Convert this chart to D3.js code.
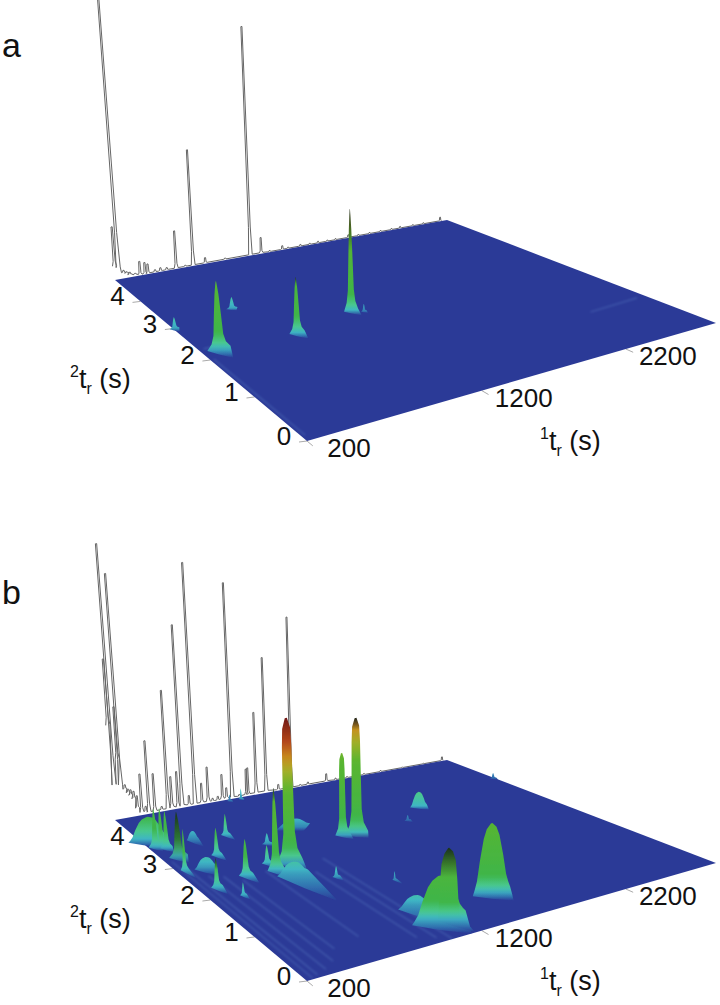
<!DOCTYPE html>
<html>
<head>
<meta charset="utf-8">
<script src="https://cdn.jsdelivr.net/npm/d3@7"></script>
<style>
  html, body { margin: 0; padding: 0; background: #fff; }
  svg { display: block; }
  text { font-family: "Liberation Sans", Arial, sans-serif; fill: #111; }
</style>
</head>
<body>
<svg id="chart" width="720" height="1005"></svg>
<script>
// axis ticks
const t1Ticks = [200, 1200, 2200];
const t2Ticks = [0, 1, 2, 3, 4];

// panel a, surface peaks (1tr s, 2tr s, height, half width s, tail s, shape, dark tip)
const aPeakT1 = [306, 786, 1235, 634, 210, 1293];
const aPeakT2 = [2.23, 2.19, 2.45, 3.23, 3.0, 2.35];
const aPeakH = [67, 55, 101, 11, 11, 7];
const aPeakW = [70, 50, 50, 38, 30, 20];
const aPeakTail = [0.3, 0.22, 0.2, 0.1, 0.12, 0.08];
const aPeakKind = [0, 0, 0, 0, 0, 0];
const aPeakDark = [0, 0.12, 0.4, 0, 0, 0];

// panel a, 1D trace on the back wall
const aTraceT1 = [204, 228, 262, 283, 304, 340, 375, 410, 431, 481, 520, 565, 634, 700, 759, 849, 1000, 1197, 1282, 1350, 1453, 1500, 1602, 1680, 1750, 1830, 1900, 2012, 2100, 2200, 2300, 2400, 2480, 2600, 2700, 2862];
const aTraceTop = [53, 300, 8, 6, 5, 3, 14, 12, 10, 3, 4, 3, 38, 2, 116, 6, 2, 229, 16, 1.5, 4, 1.5, 2, 1.5, 2, 1.5, 1.5, 3, 1.5, 1.5, 1.5, 1.5, 2, 1.5, 1.5, 4];
const aTraceFloor = [14, 12, 6, 5, 3, 2, 1, 1, 1, 1, 1, 1, 1, 1, 1, 1, 1, 1, 1, 0.5, 0.5, 0.5, 0.5, 0.5, 0.5, 0.5, 0.5, 0.5, 0.5, 0.5, 0.5, 0.5, 0.5, 0.5, 0.5, 0.5];

// panel a, faint ridges on the floor
const aStreakT1 = [2440, 230, 220];
const aStreakT2 = [0.97, 2.3, 2.0];
const aStreakT1End = [2860, 300, 220];
const aStreakT2End = [1.02, 2.3, 0.1];

// panel b, surface peaks
const bPeakT1 = [834, 705, 1425, 1340, 523, 513, 708, 308, 383, 856, 710, 946, 1150, 1110, 1557, 2072, 1842, 1202, 2924, 249, 280, 300, 305, 254, 257, 371, 760, 1134, 493, 1022, 1110, 1088];
const bPeakT2 = [2.52, 2.39, 2.9, 2.96, 2.43, 3.15, 3.7, 2.29, 1.95, 3.16, 2.62, 1.87, 0.39, 0.44, 0.68, 3.35, 2.97, 1.47, 3.81, 3.76, 3.72, 3.66, 3.32, 2.91, 4.03, 2.85, 2.2, 3.5, 3.75, 4.85, 4.85, 0.81];
const bPeakH = [143, 81, 115, 81, 35, 26, 20, 28, 12, 10, 17, 10, 70, 42, 68, 14, 5, 8, 5, 37, 38, 36, 44, 40, 22, 10, 11, 8, 8, 6, 10, 10];
const bPeakW = [85, 55, 85, 55, 45, 35, 32, 35, 20, 35, 35, 25, 70, 170, 130, 70, 25, 15, 30, 45, 40, 40, 60, 25, 130, 70, 100, 130, 40, 20, 18, 100];
const bPeakTail = [0.35, 0.3, 0.22, 0.22, 0.3, 0.25, 0.25, 0.25, 0.15, 0.12, 0.2, 0.15, 0.38, 0.44, 0.3, 0.2, 0.1, 0.15, 0.1, 0.2, 0.2, 0.2, 0.25, 0.3, 0.35, 0.3, 0.9, 0.2, 0.3, 0.1, 0.1, 0.6];
const bPeakKind = [2, 0, 2, 2, 0, 0, 0, 0, 0, 0, 0, 0, 3, 1, 1, 1, 0, 0, 0, 0, 0, 0, 0, 0, 1, 1, 1, 1, 1, 0, 0, 1];
const bPeakDark = [0, 0.15, 0.1, 0, 0, 0, 0, 0.3, 0, 0, 0, 0, 0.35, 0, 0, 0, 0, 0, 0, 0, 0, 0, 1, 0, 0, 0, 0, 0, 0, 0, 0, 0];

// panel b, 1D trace
const bTraceT1 = [200, 212, 246, 255, 283, 304, 320, 340, 360, 389, 417, 439, 481, 530, 575, 604, 648, 678, 730, 774, 825, 872, 905, 945, 980, 1012, 1056, 1110, 1167, 1180, 1244, 1324, 1421, 1527, 1600, 1665, 1821, 1900, 2000, 2150, 2300, 2500, 2700, 2880];
const bTraceTop = [161, 276, 112, 245, 33, 28, 27, 25, 20, 41, 8, 73, 39, 5, 120, 33, 37, 183, 11, 243, 21, 36, 4, 5, 26, 12, 216, 3, 27, 28, 82, 135, 6, 171, 2, 3, 8, 2, 1.5, 1.5, 1.5, 1, 1, 4];
const bTraceFloor = [95, 35, 60, 34, 29, 25, 22, 18, 8, 3, 3, 2, 2, 2, 2, 3, 2, 3, 2, 2, 2, 2, 1.5, 1.5, 2, 2, 2, 1.5, 2, 2, 2, 2, 1, 1, 1, 1, 1, 0.5, 0.5, 0.5, 0.5, 0.5, 0.5, 0.5];

// panel b, ridges
const bStreakT1 = [1020, 960, 880, 640, 470, 400, 330, 270, 235];
const bStreakT2 = [2.4, 1.9, 2.1, 2.4, 2.3, 2.5, 2.6, 2.9, 3.2];
const bStreakT1End = [1020, 960, 880, 640, 470, 400, 330, 270, 235];
const bStreakT2End = [0, 0.1, 0.2, 0.5, 0.4, 0.2, 0.1, 0.05, 0.02];

// peak outline: width of the peak at each level (spike, dome, blunt spike, round top)
const profileLevel = [0, 0.08, 0.2, 0.5, 0.8, 0.93, 1];
const profileWidth = [
  [1, 0.62, 0.42, 0.3, 0.17, 0.08, 0.02],
  [1, 0.9, 0.78, 0.62, 0.42, 0.26, 0.04],
  [1, 0.62, 0.45, 0.4, 0.36, 0.3, 0.08],
  [1, 0.95, 0.9, 0.8, 0.65, 0.4, 0.05]
];

const planeColor = "#2b3a97";
const t1Scale = d3.scaleLinear().domain([200, 2930]).range([0, 1]);
const t2Scale = d3.scaleLinear().domain([0, 4.9]).range([0, 1]);
const zScale = d3.scaleLinear().domain([0, 150]).range([0, 150]);
const heightColor = d3.scaleLinear()
  .domain([0, 3, 8, 13, 22, 75, 92, 105, 120, 140])
  .range(["#2b3a97", "#2f6cae", "#3fb6c4", "#48c88f", "#3fb548", "#5ab52f", "#9fb02a", "#c98f1e", "#b5481a", "#7a1e14"]);

// floor corners on the page for panel a (front, right, back, back left)
const cx = [307, 716, 447, 115], cy = [441, 323, 220, 280];

// square to quad, the floor is drawn in perspective
const dx1 = cx[1] - cx[2], dx2 = cx[3] - cx[2], sx = cx[0] - cx[1] + cx[2] - cx[3];
const dy1 = cy[1] - cy[2], dy2 = cy[3] - cy[2], sy = cy[0] - cy[1] + cy[2] - cy[3];
const den = dx1 * dy2 - dx2 * dy1;
const hg = (sx * dy2 - dx2 * sy) / den;
const hh = (dx1 * sy - sx * dy1) / den;

function project(t1, t2, offset) {
  const u = t1Scale(t1), v = t2Scale(t2);
  const w = hg * u + hh * v + 1;
  const x = (cx[1] - cx[0] + hg * cx[1]) * u + (cx[3] - cx[0] + hh * cx[3]) * v + cx[0];
  const y = (cy[1] - cy[0] + hg * cy[1]) * u + (cy[3] - cy[0] + hh * cy[3]) * v + cy[0];
  return [x / w, y / w + offset];
}

// verticals lean a little, they meet far below the picture
function lean(x) {
  return Math.max(0, 0.000265 * (400 - x));
}

function lift(p, z) {
  return [p[0] - lean(p[0]) * z, p[1] - z];
}

const svg = d3.select("#chart");
const defs = svg.append("defs");
[["soft", 0.7], ["softer", 1]].forEach(f => {
  defs.append("filter")
    .attr("id", f[0])
    .attr("filterUnits", "userSpaceOnUse")
    .attr("x", 0).attr("y", 0).attr("width", 720).attr("height", 1005)
    .append("feGaussianBlur").attr("stdDeviation", f[1]);
});

const pathLine = d3.line();
let gradientCount = 0;

function drawPeak(g, p, offset) {
  const wd = profileWidth[p.kind];
  const z = zScale(p.h);
  const base = project(p.t1, p.t2, offset);
  const t2Low = Math.max(0, p.t2 - p.tail);
  const tip = project(p.t1 + p.w * 0.15, t2Low, offset);

  const left = profileLevel.map((l, i) => lift(project(p.t1 - p.w * wd[i], p.t2, offset), z * l));
  const right = profileLevel.map((l, i) => lift(project(p.t1 + p.w * wd[i], p.t2, offset), z * l)).reverse();
  const foot = [
    project(p.t1 + p.w * 0.5, Math.max(0, p.t2 - p.tail * 0.6), offset),
    tip,
    project(p.t1 - p.w * 0.5, Math.max(0, p.t2 - p.tail * 0.5), offset)
  ];

  const id = `peak-${gradientCount++}`;
  const topY = base[1] - z;
  const grad = defs.append("linearGradient")
    .attr("id", id)
    .attr("gradientUnits", "userSpaceOnUse")
    .attr("x1", 0).attr("x2", 0)
    .attr("y1", tip[1]).attr("y2", topY);
  // the colour follows the height, the tail below the base stays low
  const footLevel = Math.min(8, z * 0.6);
  d3.range(21).forEach(i => {
    const f = i / 20;
    const y = tip[1] + f * (topY - tip[1]);
    const e = y > base[1]
      ? footLevel * (tip[1] - y) / (tip[1] - base[1])
      : footLevel + (z - footLevel) * (base[1] - y) / z;
    let c = heightColor(zScale.invert(e));
    if (p.dark > 0) {
      const amt = Math.max(0, (f - (1 - p.dark)) / p.dark);
      c = d3.interpolateRgb(c, "#14231c")(amt * 0.9);
    }
    grad.append("stop").attr("offset", f).attr("stop-color", c);
  });

  g.append("path")
    .attr("d", pathLine(left.concat(right, foot)) + "Z")
    .attr("fill", `url(#${id})`);
}

function drawPanel(offset, peaks, trace, streaks) {
  const g = svg.append("g");

  // trace on the back wall, first so the floor covers its foot
  const tracePts = [];
  trace.t1.forEach((t, i) => {
    const floor = zScale(trace.floor[i]);
    const top = zScale(trace.top[i]);
    const knee = floor + (top - floor) * 0.12;
    tracePts.push(lift(project(t - 14, 4.9, offset), floor));
    tracePts.push(lift(project(t - 7, 4.9, offset), knee));
    tracePts.push(lift(project(t - 4, 4.9, offset), top));
    tracePts.push(lift(project(t + 4, 4.9, offset), top));
    tracePts.push(lift(project(t + 7, 4.9, offset), knee));
    tracePts.push(lift(project(t + 14, 4.9, offset), floor));
  });
  g.append("path")
    .attr("d", pathLine(tracePts))
    .attr("fill", "none")
    .attr("stroke", "#666")
    .attr("stroke-width", 1);

  // tick marks
  g.selectAll(".t2tick").data(t2Ticks).join("line")
    .attr("x1", d => project(200, d, offset)[0])
    .attr("y1", d => project(200, d, offset)[1])
    .attr("x2", d => project(200, d, offset)[0] - 8)
    .attr("y2", d => project(200, d, offset)[1] + 1)
    .attr("stroke", "#aaa");
  g.selectAll(".t1tick").data(t1Ticks).join("line")
    .attr("x1", d => project(d, 0, offset)[0])
    .attr("y1", d => project(d, 0, offset)[1])
    .attr("x2", d => project(d, -0.1, offset)[0])
    .attr("y2", d => project(d, -0.1, offset)[1])
    .attr("stroke", "#aaa");

  // floor
  g.append("path")
    .attr("d", pathLine([
      project(200, 0, offset), project(2930, 0, offset),
      project(2930, 4.9, offset), project(200, 4.9, offset)
    ]) + "Z")
    .attr("fill", planeColor);

  const ridges = g.append("g").attr("filter", "url(#softer)");
  streaks.t1.forEach((t, i) => {
    ridges.append("path")
      .attr("d", pathLine([
        project(t, streaks.t2[i], offset),
        project(streaks.t1End[i], streaks.t2End[i], offset)
      ]))
      .attr("stroke", "#6f9ad8")
      .attr("stroke-opacity", 0.35)
      .attr("stroke-width", 1.2)
      .attr("fill", "none");
  });

  // back to front
  const surf = g.append("g").attr("filter", "url(#soft)");
  peaks.slice()
    .sort((a, b) => project(a.t1, a.t2, 0)[1] - project(b.t1, b.t2, 0)[1])
    .forEach(p => drawPeak(surf, p, offset));

  // labels
  g.selectAll(".t2label").data(t2Ticks).join("text")
    .attr("x", d => project(200, d, offset)[0] - 23)
    .attr("y", d => project(200, d, offset)[1] + 4)
    .attr("text-anchor", "middle")
    .attr("font-size", 26)
    .text(d => d);
  g.selectAll(".t1label").data(t1Ticks).join("text")
    .attr("x", d => project(d, 0, offset)[0] + 42)
    .attr("y", d => project(d, 0, offset)[1] + 16)
    .attr("text-anchor", "middle")
    .attr("font-size", 26)
    .text(d => d);

  axisTitle(g, 70, 388 + offset, "2");
  axisTitle(g, 540, 450 + offset, "1");
}

function axisTitle(g, x, y, dim) {
  const t = g.append("text").attr("x", x).attr("y", y).attr("font-size", 27);
  t.append("tspan").attr("font-size", 16).attr("dy", -11).text(dim);
  t.append("tspan").attr("dy", 11).text("t");
  t.append("tspan").attr("font-size", 16).attr("dy", 6).text("r");
  t.append("tspan").attr("dy", -6).text(" (s)");
}

function zipPeaks(t1, t2, h, w, tail, kind, dark) {
  return t1.map((d, i) => ({t1: d, t2: t2[i], h: h[i], w: w[i], tail: tail[i], kind: kind[i], dark: dark[i]}));
}

drawPanel(0,
  zipPeaks(aPeakT1, aPeakT2, aPeakH, aPeakW, aPeakTail, aPeakKind, aPeakDark),
  {t1: aTraceT1, top: aTraceTop, floor: aTraceFloor},
  {t1: aStreakT1, t2: aStreakT2, t1End: aStreakT1End, t2End: aStreakT2End});

drawPanel(540,
  zipPeaks(bPeakT1, bPeakT2, bPeakH, bPeakW, bPeakTail, bPeakKind, bPeakDark),
  {t1: bTraceT1, top: bTraceTop, floor: bTraceFloor},
  {t1: bStreakT1, t2: bStreakT2, t1End: bStreakT1End, t2End: bStreakT2End});

svg.append("text").attr("x", 2).attr("y", 57).attr("font-size", 34).text("a");
svg.append("text").attr("x", 2).attr("y", 604).attr("font-size", 34).text("b");
</script>
</body>
</html>
